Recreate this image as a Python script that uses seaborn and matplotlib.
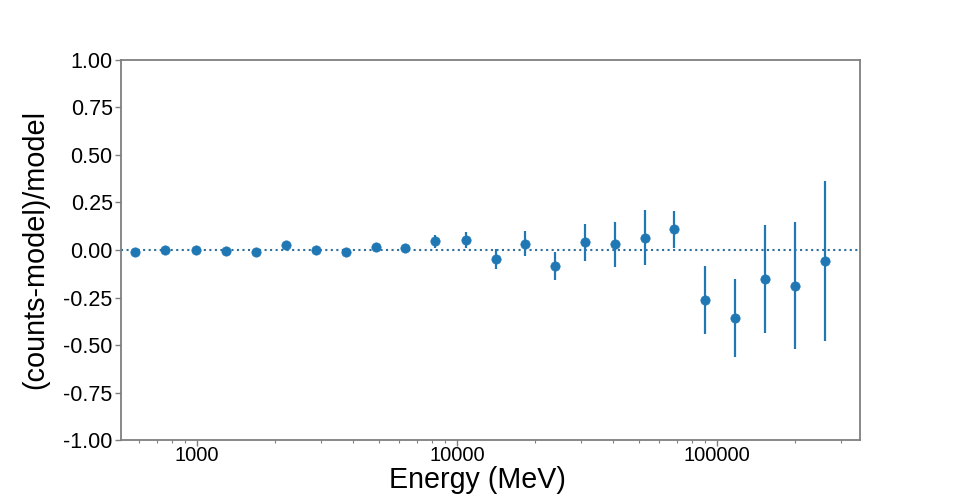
import numpy as np
import pandas as pd
import matplotlib
matplotlib.use("Agg")
import matplotlib.pyplot as plt
import matplotlib.ticker as mticker
import seaborn as sns

energy = [578, 753, 991, 1293, 1687, 2200, 2870, 3743, 4880, 6310, 8230, 10830,
          14130, 18270, 23840, 31080, 40540, 52850, 68390, 89950, 117300, 153000,
          199500, 260300]
resid = [-0.012, -0.002, -0.002, -0.005, -0.012, 0.025, -0.002, -0.012, 0.018,
         0.013, 0.045, 0.052, -0.047, 0.033, -0.085, 0.040, 0.030, 0.065, 0.108,
         -0.262, -0.358, -0.152, -0.187, -0.057]
err = [0.004, 0.004, 0.004, 0.004, 0.004, 0.006, 0.004, 0.005, 0.013, 0.020,
       0.035, 0.042, 0.053, 0.066, 0.075, 0.098, 0.118, 0.145, 0.095, 0.178,
       0.203, 0.285, 0.333, 0.420]
yticks = [1.00, 0.75, 0.50, 0.25, 0.00, -0.25, -0.50, -0.75, -1.00]
xticks = [1000, 10000, 100000]

df = pd.DataFrame({"energy": energy, "resid": resid, "err": err})

sns.set_style("white")
plt.rcParams["font.family"] = ["Liberation Sans", "DejaVu Sans"]
plt.rcParams["axes.unicode_minus"] = False

fig = plt.figure(figsize=(9.55, 4.95), dpi=100)
ax = fig.add_axes([0.1267, 0.1111, 0.7738, 0.7677])

color = "#1f77b4"
ax.errorbar(df["energy"], df["resid"], yerr=df["err"], fmt="none",
            ecolor=color, elinewidth=1.6, capsize=0, zorder=2)
sns.scatterplot(data=df, x="energy", y="resid", ax=ax, color=color,
                s=45, edgecolor=color, linewidth=0.5, zorder=3, legend=False)
ax.axhline(0, color="#2f6f9a", linestyle=":", linewidth=1.5, zorder=1)

ax.set_xscale("log")
ax.set_xlim(511, 355000)
ax.set_ylim(-1.0, 1.0)
ax.set_yticks(yticks)
ax.yaxis.set_major_formatter(mticker.FormatStrFormatter("%.2f"))
ax.set_xticks(xticks)
ax.xaxis.set_major_formatter(mticker.FuncFormatter(lambda v, p: f"{int(round(v))}"))
ax.xaxis.set_minor_locator(mticker.LogLocator(base=10, subs=np.arange(2, 10)))
ax.xaxis.set_minor_formatter(mticker.NullFormatter())

for s in ax.spines.values():
    s.set_color("#7f7f7f")
    s.set_linewidth(1.3)
ax.tick_params(axis="both", which="major", direction="out", length=4, width=1,
               color="#7f7f7f", labelcolor="black", labelsize=15.5, pad=2,
               bottom=True, left=True)
ax.tick_params(axis="x", which="major", pad=0, labelsize=14.5)
ax.tick_params(axis="x", which="minor", direction="out", length=2.5, width=0.8,
               color="#7f7f7f", bottom=True)

ax.set_xlabel("Energy (MeV)", fontsize=20.6, color="black")
ax.xaxis.set_label_coords(0.482, -0.068, transform=ax.transAxes)
ax.xaxis.label.set_va("top")
ax.set_ylabel("(counts-model)/model", fontsize=20.8, labelpad=10, color="black")

fig.savefig("out.png", dpi=100)
